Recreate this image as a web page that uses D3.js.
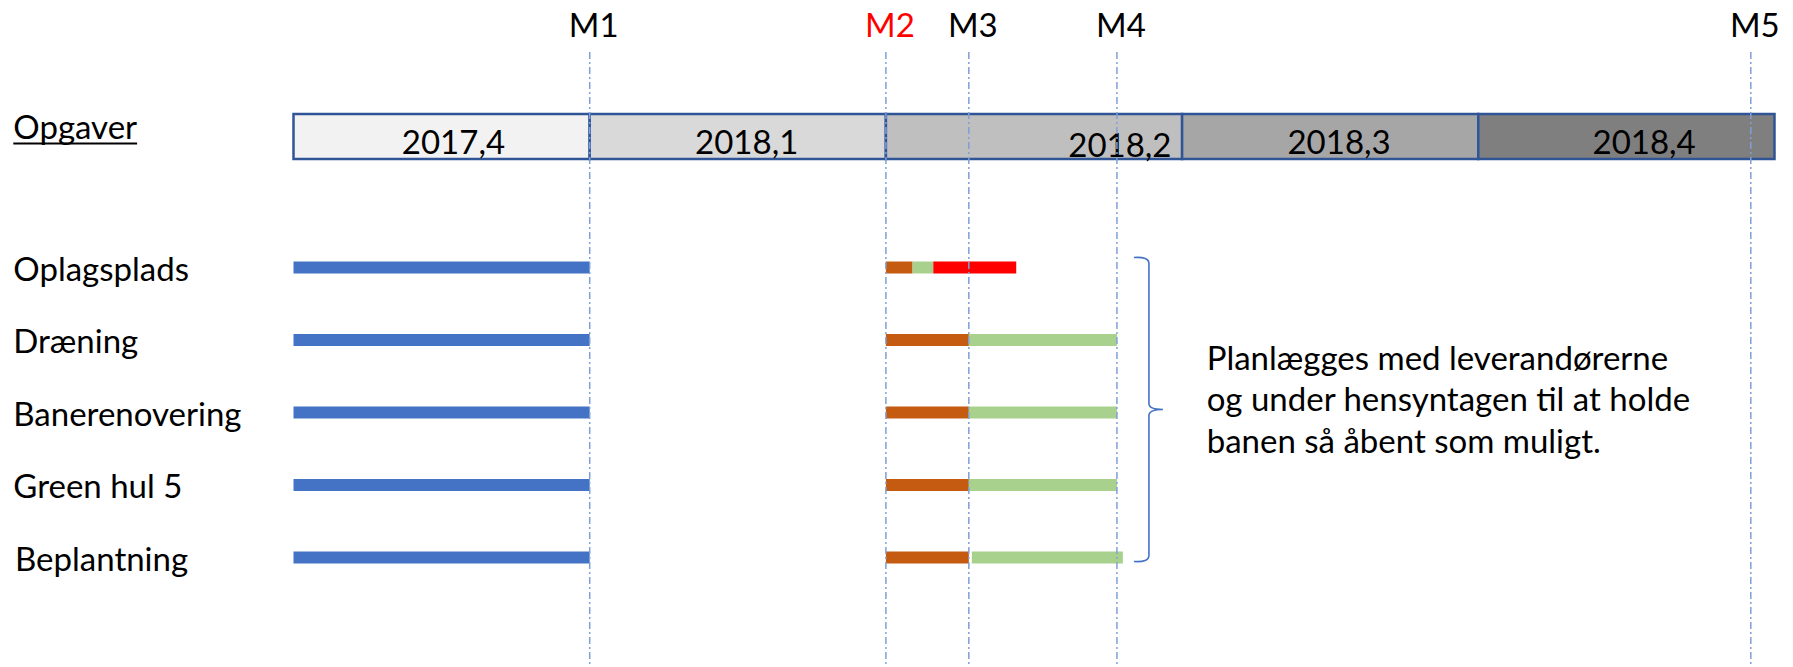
<!DOCTYPE html>
<html><head><meta charset="utf-8">
<script src="https://cdn.jsdelivr.net/npm/d3@7"></script>
<style>html,body{margin:0;padding:0;background:#fff;} svg{display:block;}</style>
</head><body><svg id="chart" width="1793" height="667"></svg>
<script>
// ---- data ----
const quarters = ["2017,4", "2018,1", "2018,2", "2018,3", "2018,4"];
const quarterFills = ["#F2F2F2", "#D9D9D9", "#BFBFBF", "#A6A6A6", "#7F7F7F"];
const quarterLabelShift = [0.04, 0.03, 0.29, 0.03, 0.06]; // quarter units from segment centre
const milestones = ["M1", "M2", "M3", "M4", "M5"];
const milestoneAt = [1.0, 2.0, 2.28, 2.78, 4.92];          // position in quarters from start of 2017,4
const milestoneColors = ["#000000", "#FF0000", "#000000", "#000000", "#000000"];
const tasks = ["Oplagsplads", "Dræning", "Banerenovering", "Green hul 5", "Beplantning"];
const blueStart = [0, 0, 0, 0, 0];
const blueEnd = [1, 1, 1, 1, 1];
const orangeStart = [2.0, 2.0, 2.0, 2.0, 2.0];
const orangeEnd = [2.09, 2.28, 2.28, 2.28, 2.28];
const greenStart = [2.09, 2.28, 2.28, 2.28, 2.29];
const greenEnd = [2.16, 2.78, 2.78, 2.78, 2.80];
const redStart = [2.16, null, null, null, null];
const redEnd = [2.44, null, null, null, null];
const noteLines = ["Planlægges med leverandørerne", "og under hensyntagen til at holde", "banen så åbent som muligt."];
const headerLabel = "Opgaver";

// ---- layout ----
const FONT = "Lato, 'Open Sans', sans-serif";
const FS = 33;
const svg = d3.select("#chart");
const x = d3.scaleLinear().domain([0, quarters.length]).range([293.5, 1774.5]);
const y = d3.scalePoint().domain(tasks).range([267.5, 557.5]);
const boxTop = 114, boxBottom = 159;
const barH = 12;

// segments
const segs = [];
tasks.forEach((t, i) => {
  segs.push({task: t, s: blueStart[i], e: blueEnd[i], c: "#4472C4"});
  segs.push({task: t, s: orangeStart[i], e: orangeEnd[i], c: "#C55A11"});
  segs.push({task: t, s: greenStart[i], e: greenEnd[i], c: "#A9D18E"});
  if (redStart[i] != null) segs.push({task: t, s: redStart[i], e: redEnd[i], c: "#FF0000"});
});

// quarter box
svg.append("g").selectAll("rect").data(quarters).join("rect")
  .attr("x", (d, i) => x(i)).attr("y", boxTop)
  .attr("width", (d, i) => x(i + 1) - x(i)).attr("height", boxBottom - boxTop)
  .attr("fill", (d, i) => quarterFills[i])
  .attr("stroke", "#2F5597").attr("stroke-width", 2.5);

svg.append("g").selectAll("text").data(quarters).join("text")
  .attr("x", (d, i) => x(i + 0.5 + quarterLabelShift[i]))
  .attr("y", (d, i) => i === 2 ? 156.5 : 154)
  .attr("text-anchor", "middle")
  .attr("font-family", FONT).attr("font-size", FS).attr("fill", "#000")
  .text(d => d);

// header label
const hdr = svg.append("text").attr("x", 13.3).attr("y", 139.3)
  .attr("font-family", FONT).attr("font-size", FS).attr("fill", "#000").text(headerLabel);
const hw = hdr.node().getComputedTextLength();
svg.append("line").attr("x1", 13.3).attr("x2", 13.3 + hw).attr("y1", 143.5).attr("y2", 143.5)
  .attr("stroke", "#000").attr("stroke-width", 2);

// task labels
svg.append("g").selectAll("text").data(tasks).join("text")
  .attr("x", (d, i) => i === 4 ? 15 : 13.3)
  .attr("y", d => y(d) + 13)
  .attr("font-family", FONT).attr("font-size", FS).attr("fill", "#000")
  .text(d => d);

// bars
svg.append("g").selectAll("rect").data(segs).join("rect")
  .attr("x", d => x(d.s)).attr("width", d => x(d.e) - x(d.s))
  .attr("y", d => y(d.task) - barH / 2).attr("height", barH)
  .attr("fill", d => d.c);

// milestone lines
svg.append("g").selectAll("line").data(milestoneAt).join("line")
  .attr("x1", d => x(d)).attr("x2", d => x(d))
  .attr("y1", 52).attr("y2", 667)
  .attr("stroke", "#7F9FD8").attr("stroke-width", 1.5)
  .attr("stroke-dasharray", "7,3,2,3");

svg.append("g").selectAll("text").data(milestones).join("text")
  .attr("x", (d, i) => x(milestoneAt[i]) + 4).attr("y", 37)
  .attr("text-anchor", "middle")
  .attr("font-family", FONT).attr("font-size", FS)
  .attr("fill", (d, i) => milestoneColors[i])
  .text(d => d);

// brace
const bTop = y(tasks[0]) - 10, bBot = y(tasks[tasks.length - 1]) + 4, bMid = (bTop + bBot) / 2;
const bx0 = x(milestoneAt[3]) + 17, bx1 = bx0 + 15, bx2 = bx0 + 29;
const p = d3.path();
p.moveTo(bx0, bTop);
p.quadraticCurveTo(bx1, bTop - 1, bx1, bTop + 6);
p.lineTo(bx1, bMid - 6);
p.quadraticCurveTo(bx1, bMid, bx2, bMid);
p.quadraticCurveTo(bx1, bMid, bx1, bMid + 6);
p.lineTo(bx1, bBot - 6);
p.quadraticCurveTo(bx1, bBot + 1, bx0, bBot);
svg.append("path").attr("d", p.toString()).attr("fill", "none")
  .attr("stroke", "#4472C4").attr("stroke-width", 1.6);

// note
svg.append("g").selectAll("text").data(noteLines).join("text")
  .attr("x", 1206.7)
  .attr("y", (d, i) => bMid - 40 + i * 41.5)
  .attr("font-family", FONT).attr("font-size", FS).attr("fill", "#000")
  .text(d => d);
</script></body></html>
